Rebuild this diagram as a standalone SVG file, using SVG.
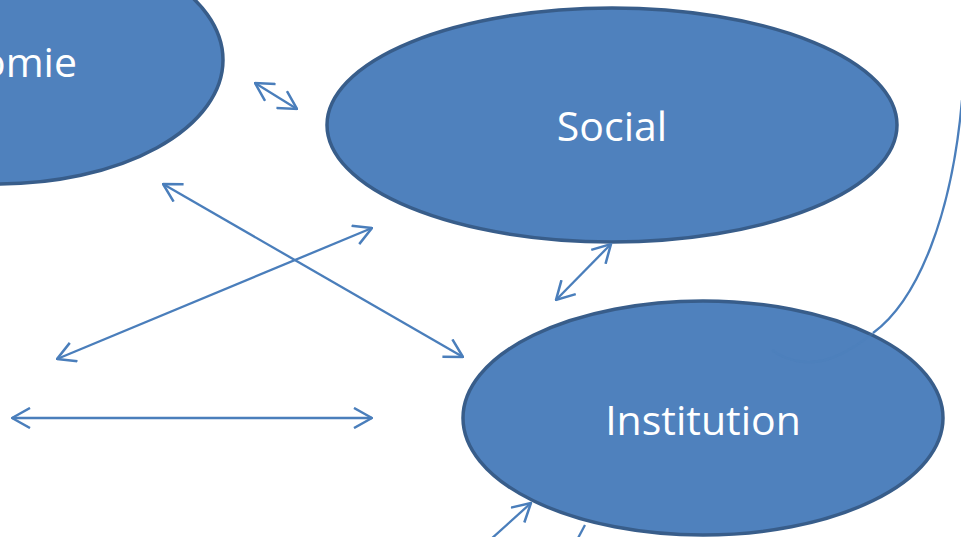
<svg xmlns="http://www.w3.org/2000/svg" width="961" height="537" viewBox="0 0 961 537">
<defs>
<style>
.node{fill:#4f81bd;stroke:#385d8a;stroke-width:3.5}
.lbl{font-family:"Open Sans","Liberation Sans",sans-serif;font-size:41px;fill:#ffffff;text-anchor:middle}
.conn{fill:none;stroke:#4a7ebb;stroke-width:2.3}
</style>
<marker id="ah" viewBox="0 0 20 22" refX="19" refY="11" markerWidth="20" markerHeight="22" markerUnits="userSpaceOnUse" orient="auto-start-reverse">
<path d="M1,1 L19,11 L1,21" fill="none" stroke="#4a7ebb" stroke-width="2.5"/>
</marker>
</defs>
<rect width="961" height="537" fill="#ffffff"/>
<g id="curve-back">
<path class="conn" d="M962,100 C952,215 918,300 873,333"/>
</g>
<g id="economie">
<ellipse class="node" cx="-2" cy="60" rx="225" ry="124"/>
<text class="lbl" x="77" y="77" style="text-anchor:end">Economie</text>
</g>
<g id="social">
<ellipse class="node" cx="612" cy="125" rx="285" ry="117"/>
<text class="lbl" x="612" y="141">Social</text>
</g>
<g id="institution">
<ellipse class="node" cx="703" cy="418" rx="240" ry="117"/>
<text class="lbl" x="703" y="435">Institution</text>
</g>
<g id="connectors">
<path class="conn" d="M873,333 C850,352 825,364 805,362 C790,361 778,355 772,350" stroke-opacity="0.3"/>
<line class="conn" x1="255" y1="83" x2="297" y2="109" marker-start="url(#ah)" marker-end="url(#ah)"/>
<line class="conn" x1="163" y1="184" x2="463" y2="357" marker-start="url(#ah)" marker-end="url(#ah)"/>
<line class="conn" x1="372" y1="228" x2="57" y2="359" marker-start="url(#ah)" marker-end="url(#ah)"/>
<line class="conn" x1="12" y1="418" x2="372" y2="418" marker-start="url(#ah)" marker-end="url(#ah)"/>
<line class="conn" x1="611" y1="244" x2="556" y2="300" marker-start="url(#ah)" marker-end="url(#ah)"/>
<line class="conn" x1="490" y1="540" x2="531" y2="503" marker-end="url(#ah)"/>
<line class="conn" x1="585" y1="525" x2="577" y2="540"/>
</g>
</svg>
